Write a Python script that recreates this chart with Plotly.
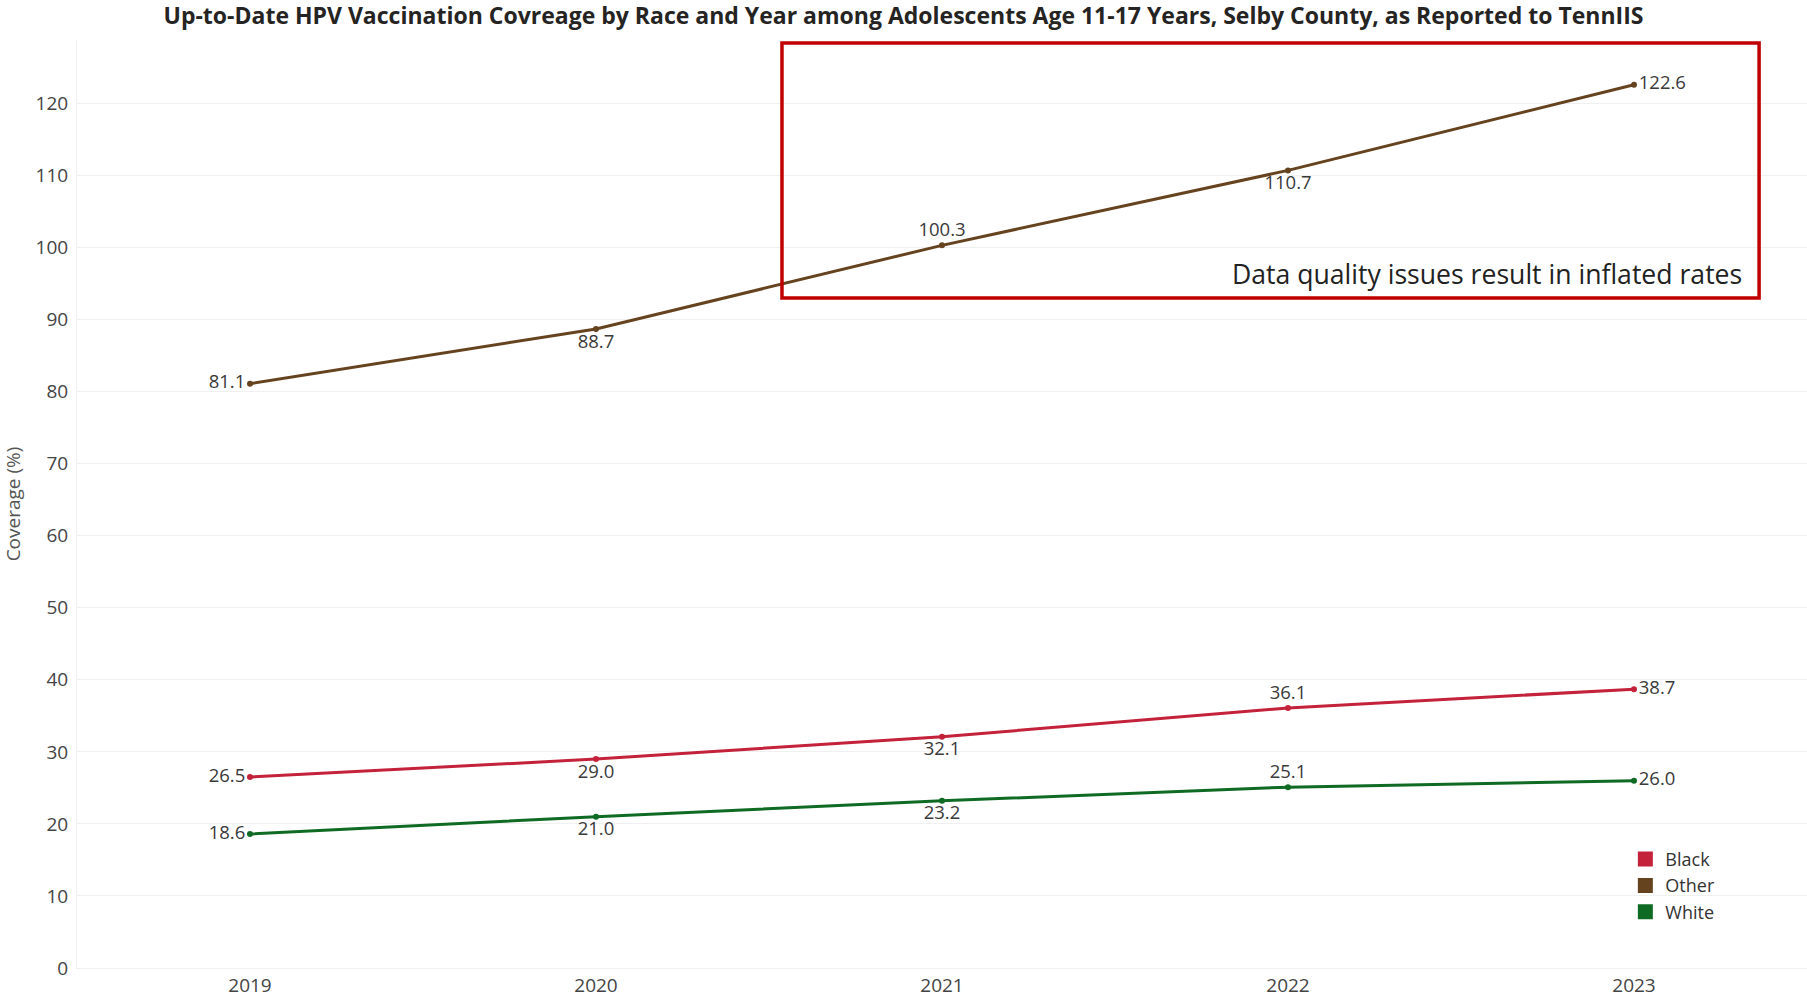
import plotly.graph_objects as go

years = ["2019", "2020", "2021", "2022", "2023"]
black = [26.5, 29.0, 32.1, 36.1, 38.7]
other = [81.1, 88.7, 100.3, 110.7, 122.6]
white = [18.6, 21.0, 23.2, 25.1, 26.0]

black_pos = ["middle left", "bottom center", "bottom center", "top center", "middle right"]
other_pos = ["middle left", "bottom center", "top center", "bottom center", "middle right"]
white_pos = ["middle left", "bottom center", "bottom center", "top center", "middle right"]

series = [
    ("Black", black, black_pos, "#C4213A"),
    ("Other", other, other_pos, "#66431F"),
    ("White", white, white_pos, "#0F6B23"),
]

FONT = "Open Sans"
fig = go.Figure()

for name, vals, pos, col in series:
    fig.add_trace(go.Scatter(
        x=years, y=vals, mode="lines+markers+text", name=name,
        line=dict(color=col, width=3), marker=dict(color=col, size=6),
        text=[f"{v:.1f}" for v in vals], textposition=pos,
        textfont=dict(family=FONT, size=18.5, color="#3a3a3a"),
        showlegend=False, cliponaxis=False,
    ))

for name, vals, pos, col in series:
    fig.add_trace(go.Scatter(
        x=[None], y=[None], mode="markers", name=name,
        marker=dict(color=col, size=15, symbol="square"),
        showlegend=True,
    ))

fig.add_shape(type="rect", xref="paper", yref="paper",
              x0=0.4075, x1=0.9723, y0=0.722, y1=0.9968,
              line=dict(color="#C00000", width=3.5), fillcolor="rgba(0,0,0,0)")

fig.add_annotation(xref="paper", yref="paper", x=0.9636, y=0.748,
                   text="Data quality issues result in inflated rates",
                   showarrow=False, xanchor="right", yanchor="middle",
                   font=dict(family=FONT, size=26.6, color="#222222"))

fig.update_layout(
    width=1807, height=997,
    paper_bgcolor="white", plot_bgcolor="white",
    margin=dict(l=77, r=0, t=40, b=29),
    title=dict(text="<b>Up-to-Date HPV Vaccination Covreage by Race and Year among Adolescents Age 11-17 Years, Selby County, as Reported to TennIIS</b>",
               x=0.5, xanchor="center", y=0.984, yanchor="middle",
               font=dict(family=FONT, size=23, color="#252423")),
    font=dict(family=FONT, size=18, color="#444444"),
    legend=dict(x=0.895, y=0.137, xanchor="left", yanchor="top",
                font=dict(family=FONT, size=18, color="#333333"),
                bgcolor="rgba(0,0,0,0)", itemwidth=30, tracegroupgap=0),
    xaxis=dict(type="category", range=[-0.5, 4.5], showgrid=False,
               showline=True, linecolor="#EFEFEF", linewidth=1,
               ticks="", tickfont=dict(family=FONT, size=19, color="#444444")),
    yaxis=dict(range=[0, 128.8], dtick=10, tick0=0, showgrid=True,
               gridcolor="#F0F0F0", gridwidth=1, zeroline=False,
               showline=True, linecolor="#F0F0F0", ticks="",
               ticklabelstandoff=4,
               tickfont=dict(family=FONT, size=19, color="#444444"),
               title=dict(text="Coverage (%)", standoff=12,
                          font=dict(family=FONT, size=19, color="#555555"))),
)

fig.write_html("out.html", config={"displayModeBar": False},
               post_script="document.body.style.margin='0';document.body.style.overflow='hidden';")
